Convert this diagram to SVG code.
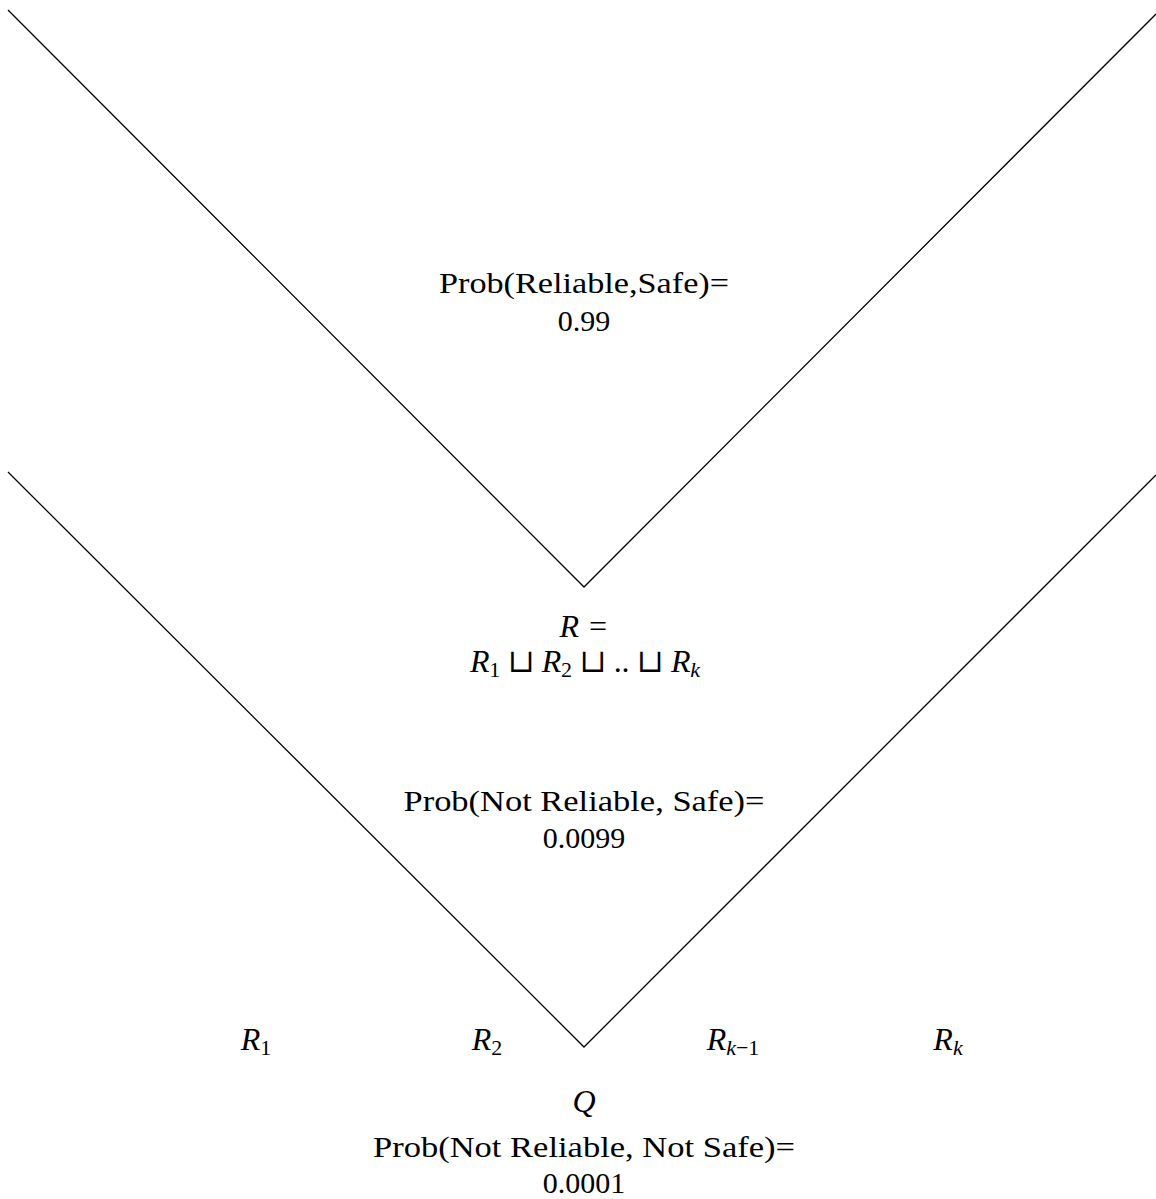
<svg xmlns="http://www.w3.org/2000/svg" width="1156" height="1199" viewBox="0 0 1156 1199">
<style>
.t{font-family:"Liberation Serif","DejaVu Serif",serif;font-size:30px;fill:#000;text-anchor:middle}
.m{font-style:italic}
.big{font-size:32px}
.s{font-size:22px;font-style:normal}
.si{font-size:22px;font-style:italic}
.ln{fill:none;stroke:#000;stroke-width:1.3}
</style>
<rect width="1156" height="1199" fill="#fff"/>
<g id="connectors">
<polyline class="ln" points="8,10 584,587 1156,14"/>
<polyline class="ln" points="8,472 584,1047 1156,475"/>
</g>
<g id="node-reliable-safe">
<text class="t" x="584" y="293" textLength="290" lengthAdjust="spacingAndGlyphs">Prob(Reliable,Safe)=</text>
<text class="t" x="584" y="331">0.99</text>
</g>
<g id="node-R">
<text class="t m big" x="584" y="637">R =</text>
<text class="t big" x="585" y="672" textLength="230" lengthAdjust="spacing"><tspan class="m">R</tspan><tspan class="s" dy="5">1</tspan><tspan dy="-5"> ⊔ </tspan><tspan class="m">R</tspan><tspan class="s" dy="5">2</tspan><tspan dy="-5"> ⊔ .. ⊔ </tspan><tspan class="m">R</tspan><tspan class="si" dy="5">k</tspan></text>
</g>
<g id="node-notreliable-safe">
<text class="t" x="584" y="811" textLength="361" lengthAdjust="spacingAndGlyphs">Prob(Not Reliable, Safe)=</text>
<text class="t" x="584" y="848">0.0099</text>
</g>
<g id="node-R1"><text class="t big" x="256" y="1050"><tspan class="m">R</tspan><tspan class="s" dy="5">1</tspan></text></g>
<g id="node-R2"><text class="t big" x="487" y="1050"><tspan class="m">R</tspan><tspan class="s" dy="5">2</tspan></text></g>
<g id="node-Rk1"><text class="t big" x="733" y="1050"><tspan class="m">R</tspan><tspan class="si" dy="5">k</tspan><tspan class="s">−1</tspan></text></g>
<g id="node-Rk"><text class="t big" x="948" y="1050"><tspan class="m">R</tspan><tspan class="si" dy="5">k</tspan></text></g>
<g id="node-Q">
<text class="t m big" x="584" y="1112">Q</text>
<text class="t" x="584" y="1157" textLength="422" lengthAdjust="spacingAndGlyphs">Prob(Not Reliable, Not Safe)=</text>
<text class="t" x="584" y="1193">0.0001</text>
</g>
</svg>
